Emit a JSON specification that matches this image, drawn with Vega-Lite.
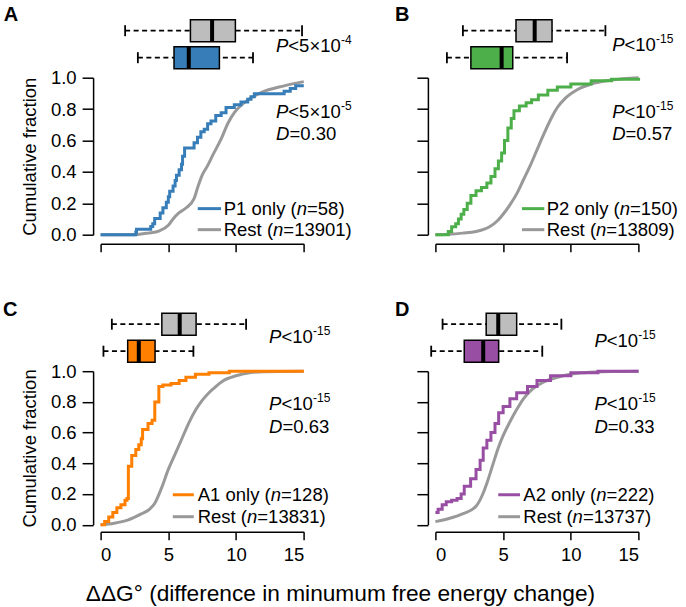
{
"$schema":"https://vega.github.io/schema/vega-lite/v6.json",
"padding":{"left":2.6,"top":4.7,"right":5,"bottom":3},
"bounds":"flush",
"columns":2,
"spacing":{"row":136.5,"column":130.8},
"title":{"text":"ΔΔG° (difference in minumum free energy change)","orient":"bottom","anchor":"middle","frame":"bounds","fontSize":22.7,"fontWeight":"normal","color":"black","offset":19},
"config":{"font":"Liberation Sans","view":{"stroke":null},
"axis":{"domainColor":"black","tickColor":"black","domainWidth":1.5,"tickWidth":1.5,"labelColor":"black","labelFontSize":18.5,"titleFontSize":18.5,"titleFontWeight":"normal","titleColor":"black","grid":false,"labelOverlap":false},
"text":{"fontSize":18.5,"color":"black"},
"tick":{"opacity":1}},
"datasets":{
"curveA":[
{"series":"Rest","x":0,"F":0},{"series":"Rest","x":2.5,"F":0},{"series":"Rest","x":3.5,"F":0.01},{"series":"Rest","x":4.35,"F":0.025},{"series":"Rest","x":5.0,"F":0.06},{"series":"Rest","x":5.35,"F":0.1},{"series":"Rest","x":5.8,"F":0.14},{"series":"Rest","x":6.3,"F":0.17},{"series":"Rest","x":6.9,"F":0.23},{"series":"Rest","x":7.2,"F":0.31},{"series":"Rest","x":7.5,"F":0.38},{"series":"Rest","x":7.9,"F":0.44},{"series":"Rest","x":8.3,"F":0.51},{"series":"Rest","x":8.9,"F":0.61},{"series":"Rest","x":9.4,"F":0.71},{"series":"Rest","x":9.9,"F":0.78},{"series":"Rest","x":10.9,"F":0.86},{"series":"Rest","x":11.85,"F":0.905},{"series":"Rest","x":13.55,"F":0.948},{"series":"Rest","x":15,"F":0.975},
{"series":"P1 only","x":0,"F":0},{"series":"P1 only","x":2.6,"F":0.017},{"series":"P1 only","x":2.65,"F":0.034},{"series":"P1 only","x":3.7,"F":0.052},{"series":"P1 only","x":3.85,"F":0.069},{"series":"P1 only","x":3.99,"F":0.103},{"series":"P1 only","x":4.4,"F":0.138},{"series":"P1 only","x":4.6,"F":0.172},{"series":"P1 only","x":4.85,"F":0.207},{"series":"P1 only","x":5.0,"F":0.241},{"series":"P1 only","x":5.1,"F":0.276},{"series":"P1 only","x":5.35,"F":0.31},{"series":"P1 only","x":5.5,"F":0.345},{"series":"P1 only","x":5.6,"F":0.379},{"series":"P1 only","x":5.8,"F":0.414},{"series":"P1 only","x":5.97,"F":0.448},{"series":"P1 only","x":6.05,"F":0.5},{"series":"P1 only","x":6.2,"F":0.552},{"series":"P1 only","x":6.9,"F":0.586},{"series":"P1 only","x":7.15,"F":0.621},{"series":"P1 only","x":7.4,"F":0.655},{"series":"P1 only","x":7.65,"F":0.672},{"series":"P1 only","x":7.9,"F":0.707},{"series":"P1 only","x":8.15,"F":0.724},{"series":"P1 only","x":8.5,"F":0.759},{"series":"P1 only","x":8.9,"F":0.776},{"series":"P1 only","x":9.26,"F":0.81},{"series":"P1 only","x":9.87,"F":0.828},{"series":"P1 only","x":10.36,"F":0.845},{"series":"P1 only","x":10.86,"F":0.862},{"series":"P1 only","x":11.1,"F":0.879},{"series":"P1 only","x":11.35,"F":0.897},{"series":"P1 only","x":13.55,"F":0.914},{"series":"P1 only","x":14.0,"F":0.931},{"series":"P1 only","x":14.4,"F":0.948},{"series":"P1 only","x":15,"F":0.948}],
"curveB":[
{"series":"Rest","x":0,"F":0},{"series":"Rest","x":1,"F":0.003},{"series":"Rest","x":2,"F":0.01},{"series":"Rest","x":3,"F":0.02},{"series":"Rest","x":4,"F":0.05},{"series":"Rest","x":4.6,"F":0.09},{"series":"Rest","x":5.0,"F":0.13},{"series":"Rest","x":5.5,"F":0.19},{"series":"Rest","x":6.0,"F":0.26},{"series":"Rest","x":6.5,"F":0.35},{"series":"Rest","x":7.0,"F":0.44},{"series":"Rest","x":7.5,"F":0.54},{"series":"Rest","x":8.0,"F":0.64},{"series":"Rest","x":8.6,"F":0.75},{"series":"Rest","x":9.0,"F":0.81},{"series":"Rest","x":9.6,"F":0.87},{"series":"Rest","x":10.5,"F":0.925},{"series":"Rest","x":11.5,"F":0.96},{"series":"Rest","x":13,"F":0.985},{"series":"Rest","x":15,"F":1.0},
{"series":"P2 only","x":0,"F":0},{"series":"P2 only","x":0.95,"F":0.02},{"series":"P2 only","x":1.2,"F":0.05},{"series":"P2 only","x":1.5,"F":0.07},{"series":"P2 only","x":1.7,"F":0.1},{"series":"P2 only","x":1.9,"F":0.13},{"series":"P2 only","x":2.1,"F":0.16},{"series":"P2 only","x":2.35,"F":0.2},{"series":"P2 only","x":2.62,"F":0.25},{"series":"P2 only","x":3.0,"F":0.28},{"series":"P2 only","x":3.4,"F":0.3},{"series":"P2 only","x":3.8,"F":0.33},{"series":"P2 only","x":4.1,"F":0.37},{"series":"P2 only","x":4.4,"F":0.42},{"series":"P2 only","x":4.65,"F":0.47},{"series":"P2 only","x":4.89,"F":0.52},{"series":"P2 only","x":5.1,"F":0.6},{"series":"P2 only","x":5.35,"F":0.68},{"series":"P2 only","x":5.6,"F":0.74},{"series":"P2 only","x":5.8,"F":0.79},{"series":"P2 only","x":6.2,"F":0.82},{"series":"P2 only","x":6.7,"F":0.84},{"series":"P2 only","x":7.1,"F":0.86},{"series":"P2 only","x":7.6,"F":0.89},{"series":"P2 only","x":8.3,"F":0.92},{"series":"P2 only","x":9.0,"F":0.94},{"series":"P2 only","x":10.0,"F":0.96},{"series":"P2 only","x":11.5,"F":0.98},{"series":"P2 only","x":13,"F":0.99},{"series":"P2 only","x":15,"F":1.0}],
"curveC":[
{"series":"Rest","x":0,"F":0},{"series":"Rest","x":1,"F":0.01},{"series":"Rest","x":2,"F":0.03},{"series":"Rest","x":3,"F":0.07},{"series":"Rest","x":3.6,"F":0.1},{"series":"Rest","x":4.0,"F":0.14},{"series":"Rest","x":4.5,"F":0.24},{"series":"Rest","x":5.0,"F":0.36},{"series":"Rest","x":5.5,"F":0.46},{"series":"Rest","x":6.0,"F":0.56},{"series":"Rest","x":6.5,"F":0.66},{"series":"Rest","x":7.0,"F":0.745},{"series":"Rest","x":7.5,"F":0.81},{"series":"Rest","x":8.0,"F":0.86},{"series":"Rest","x":8.5,"F":0.9},{"series":"Rest","x":9.0,"F":0.935},{"series":"Rest","x":10,"F":0.97},{"series":"Rest","x":11,"F":0.99},{"series":"Rest","x":12,"F":0.997},{"series":"Rest","x":15,"F":1.0},
{"series":"A1 only","x":0,"F":0},{"series":"A1 only","x":0.3,"F":0.02},{"series":"A1 only","x":0.6,"F":0.05},{"series":"A1 only","x":0.9,"F":0.08},{"series":"A1 only","x":1.2,"F":0.11},{"series":"A1 only","x":1.5,"F":0.13},{"series":"A1 only","x":1.8,"F":0.16},{"series":"A1 only","x":1.95,"F":0.17},{"series":"A1 only","x":2.05,"F":0.38},{"series":"A1 only","x":2.3,"F":0.45},{"series":"A1 only","x":2.6,"F":0.49},{"series":"A1 only","x":2.82,"F":0.52},{"series":"A1 only","x":3.0,"F":0.56},{"series":"A1 only","x":3.1,"F":0.62},{"series":"A1 only","x":3.5,"F":0.66},{"series":"A1 only","x":3.8,"F":0.68},{"series":"A1 only","x":4.0,"F":0.8},{"series":"A1 only","x":4.3,"F":0.9},{"series":"A1 only","x":4.6,"F":0.91},{"series":"A1 only","x":5.2,"F":0.92},{"series":"A1 only","x":5.8,"F":0.94},{"series":"A1 only","x":6.3,"F":0.96},{"series":"A1 only","x":7.0,"F":0.98},{"series":"A1 only","x":8.0,"F":0.99},{"series":"A1 only","x":9.5,"F":1.0},{"series":"A1 only","x":15,"F":1.0}],
"curveD":[
{"series":"Rest","x":0,"F":0.02},{"series":"Rest","x":1,"F":0.04},{"series":"Rest","x":2,"F":0.07},{"series":"Rest","x":3,"F":0.12},{"series":"Rest","x":3.5,"F":0.2},{"series":"Rest","x":3.8,"F":0.27},{"series":"Rest","x":4.2,"F":0.38},{"series":"Rest","x":4.64,"F":0.5},{"series":"Rest","x":5.0,"F":0.58},{"series":"Rest","x":5.5,"F":0.67},{"series":"Rest","x":6.0,"F":0.75},{"series":"Rest","x":6.5,"F":0.82},{"series":"Rest","x":7.0,"F":0.87},{"series":"Rest","x":8.0,"F":0.93},{"series":"Rest","x":9.0,"F":0.96},{"series":"Rest","x":10,"F":0.98},{"series":"Rest","x":11,"F":0.99},{"series":"Rest","x":13,"F":0.998},{"series":"Rest","x":15,"F":1.0},
{"series":"A2 only","x":0,"F":0.08},{"series":"A2 only","x":0.2,"F":0.1},{"series":"A2 only","x":0.5,"F":0.13},{"series":"A2 only","x":0.8,"F":0.15},{"series":"A2 only","x":1.2,"F":0.16},{"series":"A2 only","x":1.6,"F":0.17},{"series":"A2 only","x":1.9,"F":0.2},{"series":"A2 only","x":2.13,"F":0.25},{"series":"A2 only","x":2.6,"F":0.3},{"series":"A2 only","x":3.0,"F":0.36},{"series":"A2 only","x":3.3,"F":0.42},{"series":"A2 only","x":3.53,"F":0.5},{"series":"A2 only","x":3.8,"F":0.55},{"series":"A2 only","x":4.1,"F":0.6},{"series":"A2 only","x":4.4,"F":0.66},{"series":"A2 only","x":4.67,"F":0.73},{"series":"A2 only","x":5.0,"F":0.77},{"series":"A2 only","x":5.5,"F":0.82},{"series":"A2 only","x":6.0,"F":0.86},{"series":"A2 only","x":6.8,"F":0.9},{"series":"A2 only","x":7.5,"F":0.94},{"series":"A2 only","x":8.5,"F":0.97},{"series":"A2 only","x":10,"F":0.99},{"series":"A2 only","x":12,"F":1.0},{"series":"A2 only","x":15,"F":1.0}],
"boxA":[{"series":"Rest","lo":1.81,"q1":6.63,"med":8.23,"q3":9.95,"hi":14.87},{"series":"P1 only","lo":2.75,"q1":5.42,"med":6.51,"q3":8.77,"hi":11.25}],
"boxB":[{"series":"Rest","lo":2.03,"q1":5.95,"med":7.33,"q3":8.61,"hi":12.55},{"series":"P2 only","lo":0.85,"q1":2.62,"med":4.89,"q3":5.71,"hi":9.72}],
"boxC":[{"series":"Rest","lo":0.83,"q1":4.52,"med":5.84,"q3":7.05,"hi":10.74},{"series":"A1 only","lo":0.21,"q1":2.0,"med":2.82,"q3":4.02,"hi":6.85}],
"boxD":[{"series":"Rest","lo":0.53,"q1":3.75,"med":4.64,"q3":6.0,"hi":9.30},{"series":"A2 only","lo":-0.31,"q1":2.13,"med":3.53,"q3":4.67,"hi":7.89}],
"one":[{}]
},
"concat":[
{"width":203.2,"height":157,"resolve":{"scale":{"y":"independent"}},
"layer":[
{"data":{"name":"one"},"layer":[
{"data":{"name":"curveA"},"transform":[{"filter":"datum.series=='Rest'"}],"mark":{"type":"line","interpolate":"monotone","strokeWidth":3},
"encoding":{"x":{"field":"x","type":"quantitative","scale":{"domain":[0,15],"nice":false,"zero":false},"axis":{"values":[0,5,10,15],"tickCount":4,"labels":false,"title":null,"offset":9,"tickSize":8}},
"y":{"field":"F","type":"quantitative","scale":{"domain":[0,1],"nice":false},"axis":{"values":[0,0.2,0.4,0.6,0.8,1],"tickCount":6,"format":".1f","title":"Cumulative fraction","offset":7.5,"tickSize":11,"labelPadding":6,"titlePadding":11}},
"stroke":{"field":"series","type":"nominal","scale":{"domain":["Rest","P1 only","P2 only","A1 only","A2 only"],"range":["#999999","#377eb8","#4daf4a","#ff7f00","#984ea3"]},"legend":null}}},
{"data":{"name":"curveA"},"transform":[{"filter":"datum.series!='Rest'"}],"mark":{"type":"line","interpolate":"step-after","strokeWidth":3},
"encoding":{"x":{"field":"x","type":"quantitative"},"y":{"field":"F","type":"quantitative"},"stroke":{"field":"series","type":"nominal","legend":null}}},
{"mark":{"type":"text","text":"A","fontSize":20,"fontWeight":"bold","align":"left","baseline":"alphabetic"},"encoding":{"x":{"datum":-7.15},"y":{"datum":1.359}}},
{"mark":{"type":"text","text":"P","fontStyle":"italic","align":"left","baseline":"alphabetic"},"encoding":{"x":{"datum":12.95},"y":{"datum":1.166}}},
{"mark":{"type":"text","text":"<5×10","align":"left","baseline":"alphabetic","dx":12.3},"encoding":{"x":{"datum":12.95},"y":{"datum":1.166}}},
{"mark":{"type":"text","text":"-4","fontSize":12,"align":"left","baseline":"alphabetic","dx":65,"dy":-8},"encoding":{"x":{"datum":12.95},"y":{"datum":1.166}}},
{"mark":{"type":"text","text":"P","fontStyle":"italic","align":"left","baseline":"alphabetic"},"encoding":{"x":{"datum":12.95},"y":{"datum":0.745}}},
{"mark":{"type":"text","text":"<5×10","align":"left","baseline":"alphabetic","dx":12.3},"encoding":{"x":{"datum":12.95},"y":{"datum":0.745}}},
{"mark":{"type":"text","text":"-5","fontSize":12,"align":"left","baseline":"alphabetic","dx":65,"dy":-8},"encoding":{"x":{"datum":12.95},"y":{"datum":0.745}}},
{"mark":{"type":"text","text":"D","fontStyle":"italic","align":"left","baseline":"alphabetic"},"encoding":{"x":{"datum":12.95},"y":{"datum":0.605}}},
{"mark":{"type":"text","text":"=0.30","align":"left","baseline":"alphabetic","dx":13.4},"encoding":{"x":{"datum":12.95},"y":{"datum":0.605}}},
{"mark":{"type":"rule","strokeWidth":3,"color":"#377eb8"},"encoding":{"x":{"datum":7.17},"x2":{"datum":8.89},"y":{"datum":0.166}}},
{"mark":{"type":"text","text":"P1 only (","align":"left","baseline":"middle"},"encoding":{"x":{"datum":9.09},"y":{"datum":0.166}}},
{"mark":{"type":"text","text":"n","fontStyle":"italic","align":"left","baseline":"middle","dx":73},"encoding":{"x":{"datum":9.09},"y":{"datum":0.166}}},
{"mark":{"type":"text","text":"=58)","align":"left","baseline":"middle","dx":83.3},"encoding":{"x":{"datum":9.09},"y":{"datum":0.166}}},
{"mark":{"type":"rule","strokeWidth":3,"color":"#999999"},"encoding":{"x":{"datum":7.17},"x2":{"datum":8.89},"y":{"datum":0.032}}},
{"mark":{"type":"text","text":"Rest (","align":"left","baseline":"middle"},"encoding":{"x":{"datum":9.09},"y":{"datum":0.032}}},
{"mark":{"type":"text","text":"n","fontStyle":"italic","align":"left","baseline":"middle","dx":49.3},"encoding":{"x":{"datum":9.09},"y":{"datum":0.032}}},
{"mark":{"type":"text","text":"=13901)","align":"left","baseline":"middle","dx":59.6},"encoding":{"x":{"datum":9.09},"y":{"datum":0.032}}}
]},
{"data":{"name":"boxA"},"encoding":{"y":{"field":"series","type":"nominal","scale":{"type":"point","domain":["Rest","P1 only"],"range":[-47,-20],"padding":0},"axis":null}},
"layer":[
{"mark":{"type":"rule","strokeDash":[5,3.5],"strokeWidth":1.8,"color":"black"},"encoding":{"x":{"field":"lo","type":"quantitative"},"x2":{"field":"hi"}}},
{"mark":{"type":"tick","orient":"vertical","size":11,"thickness":1.8,"color":"black","opacity":1},"encoding":{"x":{"field":"lo","type":"quantitative"}}},
{"mark":{"type":"tick","orient":"vertical","size":11,"thickness":1.8,"color":"black","opacity":1},"encoding":{"x":{"field":"hi","type":"quantitative"}}},
{"mark":{"type":"bar","size":22,"stroke":"black","strokeWidth":1.5,"opacity":1},"encoding":{"x":{"field":"q1","type":"quantitative"},"x2":{"field":"q3"},"fill":{"field":"series","type":"nominal","scale":{"domain":["Rest","P1 only","P2 only","A1 only","A2 only"],"range":["#bdbdbd","#377eb8","#4daf4a","#ff7f00","#984ea3"]},"legend":null}}},
{"mark":{"type":"tick","orient":"vertical","size":22,"thickness":4,"color":"black","opacity":1},"encoding":{"x":{"field":"med","type":"quantitative"}}}
]}
]},
{"width":203.2,"height":157,"resolve":{"scale":{"y":"independent"}},
"layer":[
{"data":{"name":"one"},"layer":[
{"data":{"name":"curveB"},"transform":[{"filter":"datum.series=='Rest'"}],"mark":{"type":"line","interpolate":"monotone","strokeWidth":3},
"encoding":{"x":{"field":"x","type":"quantitative","scale":{"domain":[0,15],"nice":false,"zero":false},"axis":{"values":[0,5,10,15],"tickCount":4,"labels":false,"title":null,"offset":9,"tickSize":8}},
"y":{"field":"F","type":"quantitative","scale":{"domain":[0,1],"nice":false},"axis":{"values":[0,0.2,0.4,0.6,0.8,1],"tickCount":6,"labels":false,"title":null,"offset":7.5,"tickSize":11}},
"stroke":{"field":"series","type":"nominal","scale":{"domain":["Rest","P1 only","P2 only","A1 only","A2 only"],"range":["#999999","#377eb8","#4daf4a","#ff7f00","#984ea3"]},"legend":null}}},
{"data":{"name":"curveB"},"transform":[{"filter":"datum.series!='Rest'"}],"mark":{"type":"line","interpolate":"step-after","strokeWidth":3},
"encoding":{"x":{"field":"x","type":"quantitative"},"y":{"field":"F","type":"quantitative"},"stroke":{"field":"series","type":"nominal","legend":null}}},
{"mark":{"type":"text","text":"B","fontSize":20,"fontWeight":"bold","align":"left","baseline":"alphabetic"},"encoding":{"x":{"datum":-2.99},"y":{"datum":1.359}}},
{"mark":{"type":"text","text":"P","fontStyle":"italic","align":"left","baseline":"alphabetic"},"encoding":{"x":{"datum":13.05},"y":{"datum":1.172}}},
{"mark":{"type":"text","text":"<10","align":"left","baseline":"alphabetic","dx":12.3},"encoding":{"x":{"datum":13.05},"y":{"datum":1.172}}},
{"mark":{"type":"text","text":"-15","fontSize":12,"align":"left","baseline":"alphabetic","dx":43.9,"dy":-8},"encoding":{"x":{"datum":13.05},"y":{"datum":1.172}}},
{"mark":{"type":"text","text":"P","fontStyle":"italic","align":"left","baseline":"alphabetic"},"encoding":{"x":{"datum":13.05},"y":{"datum":0.745}}},
{"mark":{"type":"text","text":"<10","align":"left","baseline":"alphabetic","dx":12.3},"encoding":{"x":{"datum":13.05},"y":{"datum":0.745}}},
{"mark":{"type":"text","text":"-15","fontSize":12,"align":"left","baseline":"alphabetic","dx":43.9,"dy":-8},"encoding":{"x":{"datum":13.05},"y":{"datum":0.745}}},
{"mark":{"type":"text","text":"D","fontStyle":"italic","align":"left","baseline":"alphabetic"},"encoding":{"x":{"datum":13.05},"y":{"datum":0.605}}},
{"mark":{"type":"text","text":"=0.57","align":"left","baseline":"alphabetic","dx":13.4},"encoding":{"x":{"datum":13.05},"y":{"datum":0.605}}},
{"mark":{"type":"rule","strokeWidth":3,"color":"#4daf4a"},"encoding":{"x":{"datum":6.39},"x2":{"datum":8.04},"y":{"datum":0.166}}},
{"mark":{"type":"text","text":"P2 only (","align":"left","baseline":"middle"},"encoding":{"x":{"datum":8.22},"y":{"datum":0.166}}},
{"mark":{"type":"text","text":"n","fontStyle":"italic","align":"left","baseline":"middle","dx":73},"encoding":{"x":{"datum":8.22},"y":{"datum":0.166}}},
{"mark":{"type":"text","text":"=150)","align":"left","baseline":"middle","dx":83.3},"encoding":{"x":{"datum":8.22},"y":{"datum":0.166}}},
{"mark":{"type":"rule","strokeWidth":3,"color":"#999999"},"encoding":{"x":{"datum":6.39},"x2":{"datum":8.04},"y":{"datum":0.032}}},
{"mark":{"type":"text","text":"Rest (","align":"left","baseline":"middle"},"encoding":{"x":{"datum":8.22},"y":{"datum":0.032}}},
{"mark":{"type":"text","text":"n","fontStyle":"italic","align":"left","baseline":"middle","dx":49.3},"encoding":{"x":{"datum":8.22},"y":{"datum":0.032}}},
{"mark":{"type":"text","text":"=13809)","align":"left","baseline":"middle","dx":59.6},"encoding":{"x":{"datum":8.22},"y":{"datum":0.032}}}
]},
{"data":{"name":"boxB"},"encoding":{"y":{"field":"series","type":"nominal","scale":{"type":"point","domain":["Rest","P2 only"],"range":[-47,-20],"padding":0},"axis":null}},
"layer":[
{"mark":{"type":"rule","strokeDash":[5,3.5],"strokeWidth":1.8,"color":"black"},"encoding":{"x":{"field":"lo","type":"quantitative"},"x2":{"field":"hi"}}},
{"mark":{"type":"tick","orient":"vertical","size":11,"thickness":1.8,"color":"black","opacity":1},"encoding":{"x":{"field":"lo","type":"quantitative"}}},
{"mark":{"type":"tick","orient":"vertical","size":11,"thickness":1.8,"color":"black","opacity":1},"encoding":{"x":{"field":"hi","type":"quantitative"}}},
{"mark":{"type":"bar","size":22,"stroke":"black","strokeWidth":1.5,"opacity":1},"encoding":{"x":{"field":"q1","type":"quantitative"},"x2":{"field":"q3"},"fill":{"field":"series","type":"nominal","scale":{"domain":["Rest","P1 only","P2 only","A1 only","A2 only"],"range":["#bdbdbd","#377eb8","#4daf4a","#ff7f00","#984ea3"]},"legend":null}}},
{"mark":{"type":"tick","orient":"vertical","size":22,"thickness":4,"color":"black","opacity":1},"encoding":{"x":{"field":"med","type":"quantitative"}}}
]}
]},
{"width":203.2,"height":153.5,"resolve":{"scale":{"y":"independent"}},
"layer":[
{"data":{"name":"one"},"layer":[
{"data":{"name":"curveC"},"transform":[{"filter":"datum.series=='Rest'"}],"mark":{"type":"line","interpolate":"monotone","strokeWidth":3},
"encoding":{"x":{"field":"x","type":"quantitative","scale":{"domain":[0,15],"nice":false,"zero":false},"axis":{"values":[0,5,10,15],"tickCount":4,"title":null,"offset":7,"tickSize":8,"labelPadding":6}},
"y":{"field":"F","type":"quantitative","scale":{"domain":[0,1],"nice":false},"axis":{"values":[0,0.2,0.4,0.6,0.8,1],"tickCount":6,"format":".1f","title":"Cumulative fraction","offset":7.5,"tickSize":11,"labelPadding":6,"titlePadding":11}},
"stroke":{"field":"series","type":"nominal","scale":{"domain":["Rest","P1 only","P2 only","A1 only","A2 only"],"range":["#999999","#377eb8","#4daf4a","#ff7f00","#984ea3"]},"legend":null}}},
{"data":{"name":"curveC"},"transform":[{"filter":"datum.series!='Rest'"}],"mark":{"type":"line","interpolate":"step-after","strokeWidth":3},
"encoding":{"x":{"field":"x","type":"quantitative"},"y":{"field":"F","type":"quantitative"},"stroke":{"field":"series","type":"nominal","legend":null}}},
{"mark":{"type":"text","text":"C","fontSize":20,"fontWeight":"bold","align":"left","baseline":"alphabetic"},"encoding":{"x":{"datum":-7.2},"y":{"datum":1.362}}},
{"mark":{"type":"text","text":"P","fontStyle":"italic","align":"left","baseline":"alphabetic"},"encoding":{"x":{"datum":12.44},"y":{"datum":1.186}}},
{"mark":{"type":"text","text":"<10","align":"left","baseline":"alphabetic","dx":12.3},"encoding":{"x":{"datum":12.44},"y":{"datum":1.186}}},
{"mark":{"type":"text","text":"-15","fontSize":12,"align":"left","baseline":"alphabetic","dx":43.9,"dy":-8},"encoding":{"x":{"datum":12.44},"y":{"datum":1.186}}},
{"mark":{"type":"text","text":"P","fontStyle":"italic","align":"left","baseline":"alphabetic"},"encoding":{"x":{"datum":12.44},"y":{"datum":0.748}}},
{"mark":{"type":"text","text":"<10","align":"left","baseline":"alphabetic","dx":12.3},"encoding":{"x":{"datum":12.44},"y":{"datum":0.748}}},
{"mark":{"type":"text","text":"-15","fontSize":12,"align":"left","baseline":"alphabetic","dx":43.9,"dy":-8},"encoding":{"x":{"datum":12.44},"y":{"datum":0.748}}},
{"mark":{"type":"text","text":"D","fontStyle":"italic","align":"left","baseline":"alphabetic"},"encoding":{"x":{"datum":12.44},"y":{"datum":0.595}}},
{"mark":{"type":"text","text":"=0.63","align":"left","baseline":"alphabetic","dx":13.4},"encoding":{"x":{"datum":12.44},"y":{"datum":0.595}}},
{"mark":{"type":"rule","strokeWidth":3,"color":"#ff7f00"},"encoding":{"x":{"datum":5.33},"x2":{"datum":6.88},"y":{"datum":0.195}}},
{"mark":{"type":"text","text":"A1 only (","align":"left","baseline":"middle"},"encoding":{"x":{"datum":7.17},"y":{"datum":0.195}}},
{"mark":{"type":"text","text":"n","fontStyle":"italic","align":"left","baseline":"middle","dx":73},"encoding":{"x":{"datum":7.17},"y":{"datum":0.195}}},
{"mark":{"type":"text","text":"=128)","align":"left","baseline":"middle","dx":83.3},"encoding":{"x":{"datum":7.17},"y":{"datum":0.195}}},
{"mark":{"type":"rule","strokeWidth":3,"color":"#999999"},"encoding":{"x":{"datum":5.33},"x2":{"datum":6.88},"y":{"datum":0.052}}},
{"mark":{"type":"text","text":"Rest (","align":"left","baseline":"middle"},"encoding":{"x":{"datum":7.17},"y":{"datum":0.052}}},
{"mark":{"type":"text","text":"n","fontStyle":"italic","align":"left","baseline":"middle","dx":49.3},"encoding":{"x":{"datum":7.17},"y":{"datum":0.052}}},
{"mark":{"type":"text","text":"=13831)","align":"left","baseline":"middle","dx":59.6},"encoding":{"x":{"datum":7.17},"y":{"datum":0.052}}}
]},
{"data":{"name":"boxC"},"encoding":{"y":{"field":"series","type":"nominal","scale":{"type":"point","domain":["Rest","A1 only"],"range":[-47,-20],"padding":0},"axis":null}},
"layer":[
{"mark":{"type":"rule","strokeDash":[5,3.5],"strokeWidth":1.8,"color":"black"},"encoding":{"x":{"field":"lo","type":"quantitative"},"x2":{"field":"hi"}}},
{"mark":{"type":"tick","orient":"vertical","size":11,"thickness":1.8,"color":"black","opacity":1},"encoding":{"x":{"field":"lo","type":"quantitative"}}},
{"mark":{"type":"tick","orient":"vertical","size":11,"thickness":1.8,"color":"black","opacity":1},"encoding":{"x":{"field":"hi","type":"quantitative"}}},
{"mark":{"type":"bar","size":22,"stroke":"black","strokeWidth":1.5,"opacity":1},"encoding":{"x":{"field":"q1","type":"quantitative"},"x2":{"field":"q3"},"fill":{"field":"series","type":"nominal","scale":{"domain":["Rest","P1 only","P2 only","A1 only","A2 only"],"range":["#bdbdbd","#377eb8","#4daf4a","#ff7f00","#984ea3"]},"legend":null}}},
{"mark":{"type":"tick","orient":"vertical","size":22,"thickness":4,"color":"black","opacity":1},"encoding":{"x":{"field":"med","type":"quantitative"}}}
]}
]},
{"width":203.2,"height":153.5,"resolve":{"scale":{"y":"independent"}},
"layer":[
{"data":{"name":"one"},"layer":[
{"data":{"name":"curveD"},"transform":[{"filter":"datum.series=='Rest'"}],"mark":{"type":"line","interpolate":"monotone","strokeWidth":3},
"encoding":{"x":{"field":"x","type":"quantitative","scale":{"domain":[0,15],"nice":false,"zero":false},"axis":{"values":[0,5,10,15],"tickCount":4,"title":null,"offset":7,"tickSize":8,"labelPadding":6}},
"y":{"field":"F","type":"quantitative","scale":{"domain":[0,1],"nice":false},"axis":{"values":[0,0.2,0.4,0.6,0.8,1],"tickCount":6,"labels":false,"title":null,"offset":7.5,"tickSize":11}},
"stroke":{"field":"series","type":"nominal","scale":{"domain":["Rest","P1 only","P2 only","A1 only","A2 only"],"range":["#999999","#377eb8","#4daf4a","#ff7f00","#984ea3"]},"legend":null}}},
{"data":{"name":"curveD"},"transform":[{"filter":"datum.series!='Rest'"}],"mark":{"type":"line","interpolate":"step-after","strokeWidth":3},
"encoding":{"x":{"field":"x","type":"quantitative"},"y":{"field":"F","type":"quantitative"},"stroke":{"field":"series","type":"nominal","legend":null}}},
{"mark":{"type":"text","text":"D","fontSize":20,"fontWeight":"bold","align":"left","baseline":"alphabetic"},"encoding":{"x":{"datum":-2.99},"y":{"datum":1.362}}},
{"mark":{"type":"text","text":"P","fontStyle":"italic","align":"left","baseline":"alphabetic"},"encoding":{"x":{"datum":11.74},"y":{"datum":1.155}}},
{"mark":{"type":"text","text":"<10","align":"left","baseline":"alphabetic","dx":12.3},"encoding":{"x":{"datum":11.74},"y":{"datum":1.155}}},
{"mark":{"type":"text","text":"-15","fontSize":12,"align":"left","baseline":"alphabetic","dx":43.9,"dy":-8},"encoding":{"x":{"datum":11.74},"y":{"datum":1.155}}},
{"mark":{"type":"text","text":"P","fontStyle":"italic","align":"left","baseline":"alphabetic"},"encoding":{"x":{"datum":11.74},"y":{"datum":0.748}}},
{"mark":{"type":"text","text":"<10","align":"left","baseline":"alphabetic","dx":12.3},"encoding":{"x":{"datum":11.74},"y":{"datum":0.748}}},
{"mark":{"type":"text","text":"-15","fontSize":12,"align":"left","baseline":"alphabetic","dx":43.9,"dy":-8},"encoding":{"x":{"datum":11.74},"y":{"datum":0.748}}},
{"mark":{"type":"text","text":"D","fontStyle":"italic","align":"left","baseline":"alphabetic"},"encoding":{"x":{"datum":11.74},"y":{"datum":0.595}}},
{"mark":{"type":"text","text":"=0.33","align":"left","baseline":"alphabetic","dx":13.4},"encoding":{"x":{"datum":11.74},"y":{"datum":0.595}}},
{"mark":{"type":"rule","strokeWidth":3,"color":"#984ea3"},"encoding":{"x":{"datum":4.64},"x2":{"datum":6.25},"y":{"datum":0.195}}},
{"mark":{"type":"text","text":"A2 only (","align":"left","baseline":"middle"},"encoding":{"x":{"datum":6.49},"y":{"datum":0.195}}},
{"mark":{"type":"text","text":"n","fontStyle":"italic","align":"left","baseline":"middle","dx":73},"encoding":{"x":{"datum":6.49},"y":{"datum":0.195}}},
{"mark":{"type":"text","text":"=222)","align":"left","baseline":"middle","dx":83.3},"encoding":{"x":{"datum":6.49},"y":{"datum":0.195}}},
{"mark":{"type":"rule","strokeWidth":3,"color":"#999999"},"encoding":{"x":{"datum":4.64},"x2":{"datum":6.25},"y":{"datum":0.052}}},
{"mark":{"type":"text","text":"Rest (","align":"left","baseline":"middle"},"encoding":{"x":{"datum":6.49},"y":{"datum":0.052}}},
{"mark":{"type":"text","text":"n","fontStyle":"italic","align":"left","baseline":"middle","dx":49.3},"encoding":{"x":{"datum":6.49},"y":{"datum":0.052}}},
{"mark":{"type":"text","text":"=13737)","align":"left","baseline":"middle","dx":59.6},"encoding":{"x":{"datum":6.49},"y":{"datum":0.052}}}
]},
{"data":{"name":"boxD"},"encoding":{"y":{"field":"series","type":"nominal","scale":{"type":"point","domain":["Rest","A2 only"],"range":[-47,-20],"padding":0},"axis":null}},
"layer":[
{"mark":{"type":"rule","strokeDash":[5,3.5],"strokeWidth":1.8,"color":"black"},"encoding":{"x":{"field":"lo","type":"quantitative"},"x2":{"field":"hi"}}},
{"mark":{"type":"tick","orient":"vertical","size":11,"thickness":1.8,"color":"black","opacity":1},"encoding":{"x":{"field":"lo","type":"quantitative"}}},
{"mark":{"type":"tick","orient":"vertical","size":11,"thickness":1.8,"color":"black","opacity":1},"encoding":{"x":{"field":"hi","type":"quantitative"}}},
{"mark":{"type":"bar","size":22,"stroke":"black","strokeWidth":1.5,"opacity":1},"encoding":{"x":{"field":"q1","type":"quantitative"},"x2":{"field":"q3"},"fill":{"field":"series","type":"nominal","scale":{"domain":["Rest","P1 only","P2 only","A1 only","A2 only"],"range":["#bdbdbd","#377eb8","#4daf4a","#ff7f00","#984ea3"]},"legend":null}}},
{"mark":{"type":"tick","orient":"vertical","size":22,"thickness":4,"color":"black","opacity":1},"encoding":{"x":{"field":"med","type":"quantitative"}}}
]}
]}
]
}
